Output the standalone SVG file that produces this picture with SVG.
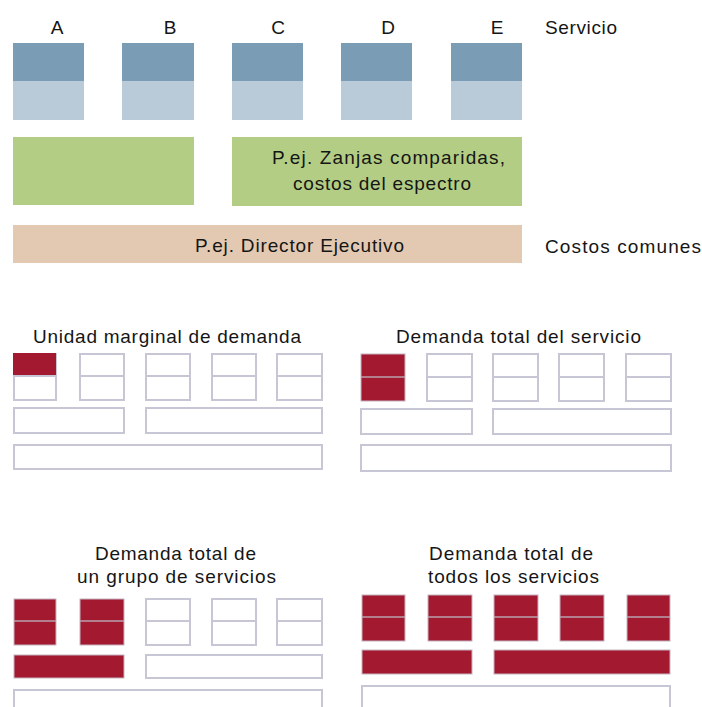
<svg xmlns="http://www.w3.org/2000/svg" width="702" height="707" viewBox="0 0 702 707">
<style>
text{font-family:"Liberation Sans",Arial,sans-serif;font-size:19px;fill:#151515}
.m{text-anchor:middle}
.dk{fill:#7a9cb4}
.lt{fill:#b9cbd9}
.gr{fill:#b3ce84}
.tan{fill:#e3c9b1}
.ob{fill:#ffffff;stroke:#c6c6d4;stroke-width:2}
.rb{fill:#a31a30;stroke:#c4b4c0;stroke-width:1}
.dv{stroke:#c6c6d4;stroke-width:2}
.dvr{stroke:#b8a0ac;stroke-width:1.5}
.rf{fill:#a31a30}
</style>
<rect width="702" height="707" fill="#ffffff"/>

<g id="service-labels">
<text class="m" x="57" y="34">A</text>
<text class="m" x="170" y="34">B</text>
<text class="m" x="278" y="34">C</text>
<text class="m" x="388" y="34">D</text>
<text class="m" x="497" y="34">E</text>
<text x="545" y="34" textLength="72" lengthAdjust="spacing">Servicio</text>
</g>

<g id="service-A"><rect class="dk" x="13" y="43" width="71" height="38"/><rect class="lt" x="13" y="81" width="71" height="39"/></g>
<g id="service-B"><rect class="dk" x="122" y="43" width="72" height="38"/><rect class="lt" x="122" y="81" width="72" height="39"/></g>
<g id="service-C"><rect class="dk" x="232" y="43" width="71" height="38"/><rect class="lt" x="232" y="81" width="71" height="39"/></g>
<g id="service-D"><rect class="dk" x="341" y="43" width="71" height="38"/><rect class="lt" x="341" y="81" width="71" height="39"/></g>
<g id="service-E"><rect class="dk" x="451" y="43" width="71" height="38"/><rect class="lt" x="451" y="81" width="71" height="39"/></g>

<g id="shared-AB"><rect class="gr" x="13" y="137" width="181" height="68"/></g>
<g id="shared-CDE"><rect class="gr" x="232" y="137" width="290" height="69"/>
<text x="272" y="164" textLength="233" lengthAdjust="spacing">P.ej. Zanjas comparidas,</text>
<text x="293" y="190" textLength="178" lengthAdjust="spacing">costos del espectro</text>
</g>

<g id="common-costs"><rect class="tan" x="13" y="225" width="509" height="38"/>
<text x="195" y="252" textLength="209" lengthAdjust="spacing">P.ej. Director Ejecutivo</text>
</g>
<g id="common-label"><text x="545" y="253" textLength="156" lengthAdjust="spacing">Costos comunes</text></g>

<g id="panel-marginal">
<text x="33" y="343" textLength="268" lengthAdjust="spacing">Unidad marginal de demanda</text>
<rect class="ob" x="14" y="354" width="42" height="46"/>
<rect class="rf" x="13" y="353" width="43" height="22"/>
<line class="dv" x1="13" y1="376" x2="56" y2="376"/>
<rect class="ob" x="80" y="354" width="44" height="46"/><line class="dv" x1="80" y1="376" x2="124" y2="376"/>
<rect class="ob" x="146" y="354" width="44" height="46"/><line class="dv" x1="146" y1="376" x2="190" y2="376"/>
<rect class="ob" x="212" y="354" width="44" height="46"/><line class="dv" x1="212" y1="376" x2="256" y2="376"/>
<rect class="ob" x="277" y="354" width="45" height="46"/><line class="dv" x1="277" y1="376" x2="322" y2="376"/>
<rect class="ob" x="14" y="408" width="110" height="25"/>
<rect class="ob" x="146" y="408" width="176" height="25"/>
<rect class="ob" x="14" y="445" width="308" height="24"/>
</g>

<g id="panel-service">
<text x="396" y="343" textLength="245" lengthAdjust="spacing">Demanda total del servicio</text>
<rect class="rb" x="361" y="354" width="44" height="47"/><line class="dvr" x1="361" y1="377" x2="405" y2="377"/>
<rect class="ob" x="427" y="354" width="45" height="47"/><line class="dv" x1="427" y1="377" x2="472" y2="377"/>
<rect class="ob" x="493" y="354" width="45" height="47"/><line class="dv" x1="493" y1="377" x2="538" y2="377"/>
<rect class="ob" x="559" y="354" width="45" height="47"/><line class="dv" x1="559" y1="377" x2="604" y2="377"/>
<rect class="ob" x="626" y="354" width="45" height="47"/><line class="dv" x1="626" y1="377" x2="671" y2="377"/>
<rect class="ob" x="361" y="409" width="111" height="25"/>
<rect class="ob" x="493" y="409" width="178" height="25"/>
<rect class="ob" x="361" y="445" width="310" height="26"/>
</g>

<g id="panel-group">
<text x="95" y="560" textLength="161" lengthAdjust="spacing">Demanda total de</text>
<text x="77" y="583" textLength="199" lengthAdjust="spacing">un grupo de servicios</text>
<rect class="rb" x="14" y="599" width="42" height="46"/><line class="dvr" x1="14" y1="621" x2="56" y2="621"/>
<rect class="rb" x="80" y="599" width="44" height="46"/><line class="dvr" x1="80" y1="621" x2="124" y2="621"/>
<rect class="ob" x="146" y="599" width="44" height="46"/><line class="dv" x1="146" y1="621" x2="190" y2="621"/>
<rect class="ob" x="212" y="599" width="44" height="46"/><line class="dv" x1="212" y1="621" x2="256" y2="621"/>
<rect class="ob" x="277" y="599" width="45" height="46"/><line class="dv" x1="277" y1="621" x2="322" y2="621"/>
<rect class="rb" x="14" y="655" width="110" height="23"/>
<rect class="ob" x="146" y="655" width="176" height="23"/>
<rect class="ob" x="14" y="690" width="308" height="26"/>
</g>

<g id="panel-all">
<text x="429" y="560" textLength="164" lengthAdjust="spacing">Demanda total de</text>
<text x="428" y="583" textLength="171" lengthAdjust="spacing">todos los servicios</text>
<rect class="rb" x="362" y="595" width="43" height="46"/><line class="dvr" x1="362" y1="617" x2="405" y2="617"/>
<rect class="rb" x="428" y="595" width="44" height="46"/><line class="dvr" x1="428" y1="617" x2="472" y2="617"/>
<rect class="rb" x="494" y="595" width="44" height="46"/><line class="dvr" x1="494" y1="617" x2="538" y2="617"/>
<rect class="rb" x="560" y="595" width="44" height="46"/><line class="dvr" x1="560" y1="617" x2="604" y2="617"/>
<rect class="rb" x="627" y="595" width="43" height="46"/><line class="dvr" x1="627" y1="617" x2="670" y2="617"/>
<rect class="rb" x="362" y="650" width="110" height="24"/>
<rect class="rb" x="494" y="650" width="176" height="24"/>
<rect class="ob" x="362" y="686" width="308" height="30"/>
</g>
</svg>
